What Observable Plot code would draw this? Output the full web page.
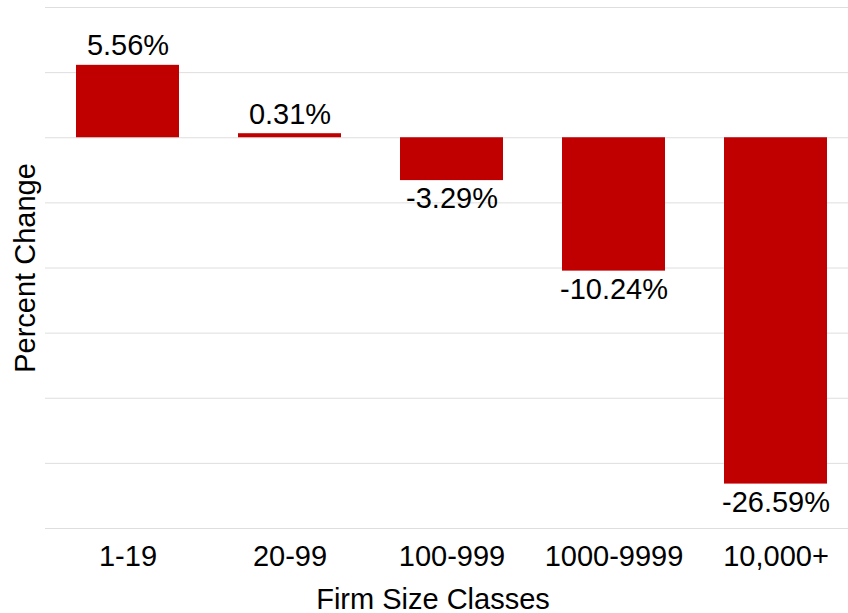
<!DOCTYPE html>
<html>
<head>
<meta charset="utf-8">
<script src="https://cdn.jsdelivr.net/npm/d3@7"></script>
<script src="https://cdn.jsdelivr.net/npm/@observablehq/plot@0.6"></script>
<style>
  html, body { margin: 0; padding: 0; background: #fff; }
</style>
</head>
<body>
<div id="chart"></div>
<script>
const categories = ["1-19", "20-99", "100-999", "1000-9999", "10,000+"];
const values = [5.56, 0.31, -3.29, -10.24, -26.59];
const gridTicks = [10, 5, 0, -5, -10, -15, -20, -25, -30];
const xTitle = "Firm Size Classes";
const yTitle = "Percent Change";

const data = categories.map((c, i) => ({cat: c, v: values[i]}));
const fmt = v => v.toFixed(2) + "%";

const chart = Plot.plot({
  width: 848,
  height: 613,
  marginTop: 7,
  marginLeft: 45,
  marginRight: 0,
  marginBottom: 85,
  style: {fontFamily: "'Liberation Sans', Arial, sans-serif", fontSize: "29px", color: "#000", background: "#fff"},
  x: {domain: categories, range: [45, 858], paddingInner: 0.366, paddingOuter: 0.185, label: null},
  y: {domain: [-30, 10], label: null},
  marks: [
    Plot.gridY(gridTicks, {stroke: "#dedede", strokeOpacity: 1, strokeWidth: 1}),
    Plot.barY(data, {x: "cat", y: "v", fill: "#c00000"}),
    Plot.text(data.filter(d => d.v >= 0), {x: "cat", y: "v", text: d => fmt(d.v), lineAnchor: "bottom", dy: -10, fill: "#000", fontSize: 29}),
    Plot.text(data.filter(d => d.v < 0), {x: "cat", y: "v", text: d => fmt(d.v), lineAnchor: "top", dy: 7, fill: "#000", fontSize: 29}),
    Plot.axisX({tickSize: 0, tickPadding: 17, label: null, fontSize: 29}),
    Plot.text([xTitle], {frameAnchor: "bottom", text: d => d, lineAnchor: "bottom", dx: -14, dy: 80, fill: "#000", fontSize: 29}),
    Plot.axisY({ticks: [], label: yTitle, labelAnchor: "center", labelOffset: 31, labelArrow: "none", fontSize: 29})
  ]
});
document.getElementById("chart").appendChild(chart);
</script>
</body>
</html>
